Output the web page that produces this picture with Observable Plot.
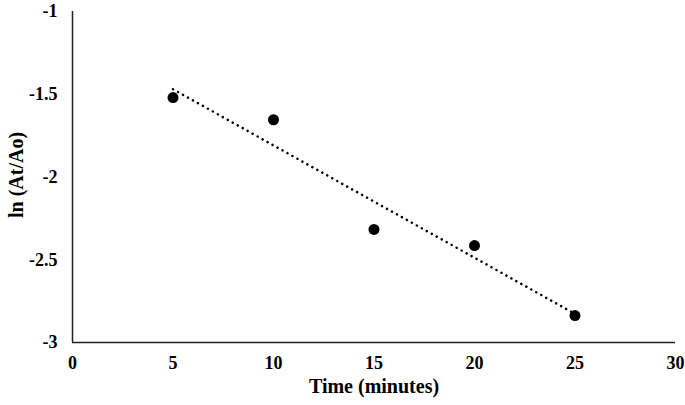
<!DOCTYPE html>
<html>
<head>
<meta charset="utf-8">
<script src="https://cdn.jsdelivr.net/npm/d3@7"></script>
<script src="https://cdn.jsdelivr.net/npm/@observablehq/plot@0.6"></script>
<style>
  html, body { margin: 0; padding: 0; background: #fff; }
</style>
</head>
<body>
<div id="chart"></div>
<script>
const times = [5, 10, 15, 20, 25];
const lnRatio = [-1.52, -1.654, -2.317, -2.414, -2.837];
const xTicks = [0, 5, 10, 15, 20, 25, 30];
const yTicks = [-3, -2.5, -2, -1.5, -1];
const xTitle = "Time (minutes)";
const yTitle = "ln (At/Ao)";

const data = times.map((t, i) => ({t, v: lnRatio[i]}));

const chart = Plot.plot({
  width: 685,
  height: 405,
  marginLeft: 72,
  marginRight: 10,
  marginTop: 11,
  marginBottom: 63,
  style: {fontFamily: "'Liberation Serif', 'Times New Roman', serif", fontSize: "18px", fontWeight: "bold", color: "#000", background: "#fff"},
  x: {domain: [0, 30]},
  y: {domain: [-3, -1]},
  marks: [
    Plot.axisX({ticks: xTicks, tickSize: 0, tickPadding: 14, tickFormat: d => String(d), fontSize: 18, label: null}),
    Plot.axisY({ticks: yTicks, tickSize: 0, tickPadding: 15, tickFormat: d => String(d), fontSize: 18, label: null}),
    Plot.text([xTitle], {frameAnchor: "bottom", dy: 50, fontSize: 20, fontWeight: "bold", fill: "#000"}),
    Plot.text([yTitle], {frameAnchor: "left", textAnchor: "middle", dx: -56, dy: -2, rotate: -90, fontSize: 20, fontWeight: "bold", fill: "#000"}),
    Plot.ruleX([0], {stroke: "#222", strokeWidth: 1.5}),
    Plot.ruleY([-3], {stroke: "#222", strokeWidth: 1.5}),
    Plot.dot(data, {x: "t", y: "v", r: 5.5, fill: "#000", stroke: "none"}),
    Plot.linearRegressionY(data, {x: "t", y: "v", ci: 0, stroke: "#000", strokeWidth: 2.5, strokeDasharray: "0.1,5.6", strokeLinecap: "round"})
  ]
});
document.getElementById("chart").appendChild(chart);
</script>
</body>
</html>
